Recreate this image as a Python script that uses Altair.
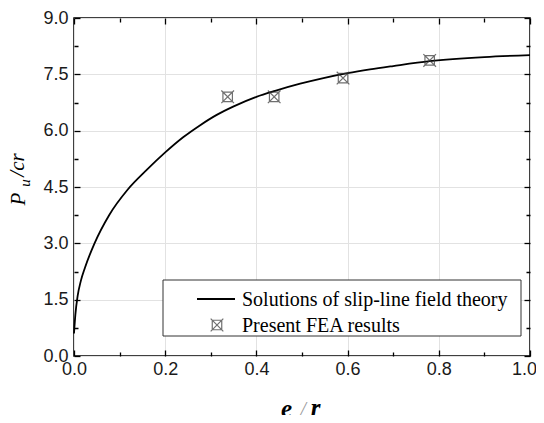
import altair as alt
import pandas as pd

# ---- data ----
curve_x = [0.0, 0.003, 0.008, 0.015, 0.024, 0.045, 0.077, 0.117, 0.16, 0.2,
           0.24, 0.276, 0.313, 0.349, 0.40, 0.441, 0.496, 0.547, 0.60, 0.649,
           0.70, 0.78, 0.9, 1.0]
curve_y = [0.6, 1.1, 1.6, 2.0, 2.35, 3.0, 3.75, 4.42, 4.96, 5.42,
           5.83, 6.14, 6.42, 6.64, 6.90, 7.06, 7.25, 7.40, 7.53, 7.63,
           7.72, 7.85, 7.96, 8.01]
fea_x = [0.337, 0.439, 0.59, 0.78]
fea_y = [6.90, 6.90, 7.40, 7.87]

x_ticks = [0.0, 0.1, 0.2, 0.3, 0.4, 0.5, 0.6, 0.7, 0.8, 0.9, 1.0]
y_ticks = [0.0, 0.75, 1.5, 2.25, 3.0, 3.75, 4.5, 5.25, 6.0, 6.75, 7.5, 8.25, 9.0]
legend_labels = ["Solutions of slip-line field theory", "Present FEA results"]
y_title_parts = ["P", "u", "/cr"]
x_title_parts = ["e", "o", "/", "r"]

curve_df = pd.DataFrame({"x": curve_x, "y": curve_y})
fea_df = pd.DataFrame({"x": fea_x, "y": fea_y})

W, H = 456, 338
SERIF = "Liberation Serif"
SANS = "Liberation Sans"
MARKER = "M-1,-1L1,1M-1,1L1,-1M-0.75,-0.75L0.75,-0.75L0.75,0.75L-0.75,0.75Z"

x_minor = "round(datum.value*10) % 2 == 1"
y_minor = "round(datum.value/0.75) % 2 == 1"

xscale = alt.Scale(domain=[0, 1], nice=False, zero=False)
yscale = alt.Scale(domain=[0, 9], nice=False, zero=False)


def make_axis(orient, test, labels, grid, label_expr=None):
    kw = dict(
        orient=orient, offset=-6, tickSize=6, domain=False, title=None,
        tickColor="black", tickWidth=1.3,
        tickDash={"condition": {"test": test, "value": [0, 2, 4]}, "value": [1000]},
        labels=labels, grid=grid, labelFlush=False, labelOverlap=False,
    )
    if orient in ("bottom", "top"):
        kw["values"] = x_ticks
    else:
        kw["values"] = y_ticks
    if grid:
        kw["gridColor"] = "#e2e2e2"
        kw["gridWidth"] = 1
        kw["gridOpacity"] = {"condition": {"test": test, "value": 0}, "value": 1}
    if labels:
        kw["labelExpr"] = label_expr
        kw["labelFont"] = SANS
        kw["labelFontSize"] = 18
        kw["labelColor"] = "#1a1a1a"
        kw["labelPadding"] = 4 if orient == "bottom" else 6
        if orient == "bottom":
            kw["labelOffset"] = {"condition": {"test": "datum.value >= 0.99", "value": -6}, "value": 0}
    return alt.Axis(**kw)


x_lab = f"{x_minor} ? '' : format(datum.value, '.1f')"
y_lab = f"{y_minor} ? '' : format(datum.value, '.1f')"

line = alt.Chart(curve_df).mark_line(color="black", strokeWidth=1.8, interpolate="monotone").encode(
    x=alt.X("x:Q", scale=xscale, axis=make_axis("bottom", x_minor, True, True, x_lab)),
    y=alt.Y("y:Q", scale=yscale, axis=make_axis("left", y_minor, True, True, y_lab)),
)

points = alt.Chart(fea_df).mark_point(shape=MARKER, size=160, stroke="#333", strokeWidth=1.2, filled=False).encode(
    x=alt.X("x:Q", scale=xscale, axis=make_axis("top", x_minor, False, False)),
    y=alt.Y("y:Q", scale=yscale, axis=make_axis("right", y_minor, False, False)),
)

# legend box
leg_box = alt.Chart().mark_rect(fill="white", stroke="#333", strokeWidth=1).encode(
    x=alt.value(89), x2=alt.value(447), y=alt.value(262), y2=alt.value(318)
)
leg_line = alt.Chart().mark_rule(color="black", strokeWidth=1.8).encode(
    x=alt.value(123), x2=alt.value(161), y=alt.value(281)
)
leg_pt = alt.Chart().mark_point(shape=MARKER, size=160, stroke="#333", strokeWidth=1.2, filled=False).encode(
    x=alt.value(143), y=alt.value(307)
)
leg_t1 = alt.Chart().mark_text(text=legend_labels[0], font=SERIF, fontSize=20, align="left",
                               baseline="alphabetic", color="black").encode(x=alt.value(168), y=alt.value(288))
leg_t2 = alt.Chart().mark_text(text=legend_labels[1], font=SERIF, fontSize=20, align="left",
                               baseline="alphabetic", color="black").encode(x=alt.value(168), y=alt.value(314))

# y-axis title P_u /cr (rotated)
yt_P = alt.Chart().mark_text(text=y_title_parts[0], font=SERIF, fontSize=21, fontStyle="italic",
                             angle=270, align="center", baseline="alphabetic").encode(x=alt.value(-49), y=alt.value(181))
yt_u = alt.Chart().mark_text(text=y_title_parts[1], font=SERIF, fontSize=15, fontStyle="italic",
                             angle=270, align="center", baseline="alphabetic").encode(x=alt.value(-44), y=alt.value(165))
yt_cr = alt.Chart().mark_text(text=y_title_parts[2], font=SERIF, fontSize=21, fontStyle="italic",
                              angle=270, align="center", baseline="alphabetic").encode(x=alt.value(-50), y=alt.value(147))

# x-axis title e_o / r
xt_e = alt.Chart().mark_text(text=x_title_parts[0], font=SERIF, fontSize=25, fontStyle="italic", fontWeight="bold",
                             align="center", baseline="alphabetic").encode(x=alt.value(212.5), y=alt.value(399))
xt_o = alt.Chart().mark_text(text=x_title_parts[1], font=SERIF, fontSize=11, fontStyle="italic",
                             align="center", baseline="alphabetic").encode(x=alt.value(220), y=alt.value(403))
xt_s = alt.Chart().mark_text(text=x_title_parts[2], font=SERIF, fontSize=19, fontStyle="italic", color="#999",
                             align="center", baseline="alphabetic").encode(x=alt.value(229.5), y=alt.value(397))
xt_r = alt.Chart().mark_text(text=x_title_parts[3], font=SERIF, fontSize=25, fontStyle="italic", fontWeight="bold",
                             align="center", baseline="alphabetic").encode(x=alt.value(241.5), y=alt.value(398))

chart = alt.layer(
    line, points, leg_box, leg_line, leg_pt, leg_t1, leg_t2,
    yt_P, yt_u, yt_cr, xt_e, xt_o, xt_s, xt_r,
).resolve_axis(x="independent", y="independent").properties(
    width=W, height=H,
    autosize=alt.AutoSizeParams(type="none"),
    padding={"left": 66, "top": 10, "right": 6, "bottom": 59},
    background="white",
).configure_view(stroke="black", strokeWidth=1.5)

chart.save("out.html", embed_options={"renderer": "svg", "actions": False})
